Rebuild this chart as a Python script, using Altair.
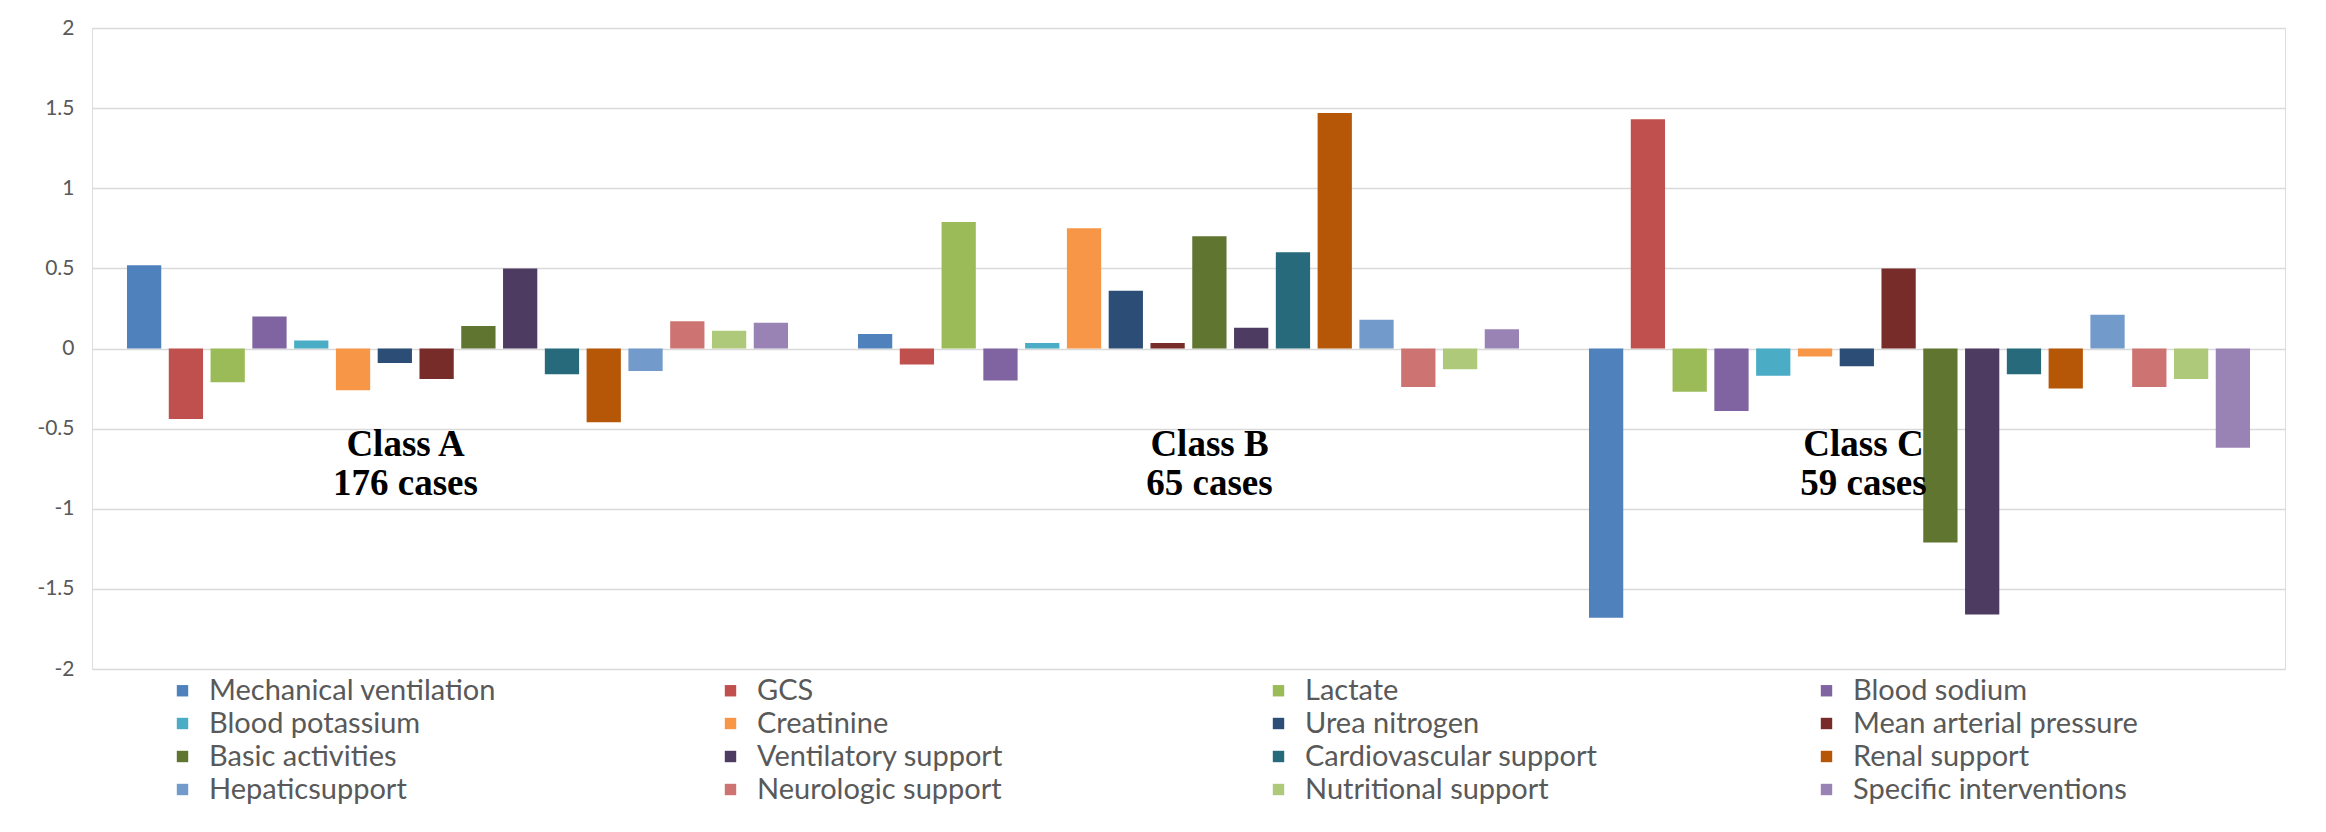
import altair as alt
import pandas as pd

classes = ["Class A", "Class B", "Class C"]
case_counts = ["176 cases", "65 cases", "59 cases"]
variables = [
    "Mechanical ventilation", "GCS", "Lactate", "Blood sodium",
    "Blood potassium", "Creatinine", "Urea nitrogen", "Mean arterial pressure",
    "Basic activities", "Ventilatory support", "Cardiovascular support", "Renal support",
    "Hepaticsupport", "Neurologic support", "Nutritional support", "Specific interventions",
]
class_a = [0.52, -0.44, -0.21, 0.20, 0.05, -0.26, -0.09, -0.19,
           0.14, 0.50, -0.16, -0.46, -0.14, 0.17, 0.11, 0.16]
class_b = [0.09, -0.10, 0.79, -0.20, 0.035, 0.75, 0.36, 0.035,
           0.70, 0.13, 0.60, 1.47, 0.18, -0.24, -0.13, 0.12]
class_c = [-1.68, 1.43, -0.27, -0.39, -0.17, -0.05, -0.11, 0.50,
           -1.21, -1.66, -0.16, -0.25, 0.21, -0.24, -0.19, -0.62]
colors = [
    "#4F81BD", "#C0504D", "#9BBB59", "#8064A2",
    "#4BACC6", "#F79646", "#2C4D75", "#772C2A",
    "#5F7530", "#4D3B62", "#276A7C", "#B65708",
    "#729ACA", "#CD7371", "#AFC97A", "#9983B5",
]
y_ticks = [-2, -1.5, -1, -0.5, 0, 0.5, 1, 1.5, 2]

rows = []
for cls, vals in zip(classes, [class_a, class_b, class_c]):
    for var, val in zip(variables, vals):
        rows.append({"cls": cls, "variable": var, "value": val})
df = pd.DataFrame(rows)

# legend fills column by column: transpose the order so it reads row by row
n_cols = 4
legend_order = [variables[r * n_cols + c] for c in range(n_cols) for r in range(len(variables) // n_cols)]
legend_colors = [colors[variables.index(v)] for v in legend_order]

lab_df = pd.DataFrame({"cls": classes, "label": [[c, n] for c, n in zip(classes, case_counts)]})

x_enc = alt.X("cls:N", sort=classes, scale=alt.Scale(paddingInner=0.09, paddingOuter=0.045), axis=None)

bars = alt.Chart(df).mark_bar().encode(
    x=x_enc,
    xOffset=alt.XOffset("variable:N", sort=variables,
                        scale=alt.Scale(paddingInner=0.18, paddingOuter=0.05)),
    y=alt.Y("value:Q", scale=alt.Scale(domain=[-2, 2], nice=False),
            axis=alt.Axis(values=y_ticks, title=None, labelExpr="'' + datum.value",
                          labelFont="Lato", labelFontSize=21, labelColor="#595959",
                          labelPadding=18, domain=False, ticks=False,
                          grid=True, gridColor="#D9D9D9", gridWidth=1.5)),
    color=alt.Color("variable:N",
                    scale=alt.Scale(domain=legend_order, range=legend_colors),
                    legend=alt.Legend(orient="none", legendX=76, legendY=648, columns=n_cols,
                                      title=None, symbolType="square", symbolSize=130,
                                      symbolStrokeWidth=0, labelFontSize=29, labelFont="Lato",
                                      labelColor="#595959", columnPadding=214, rowPadding=3,
                                      gridAlign="all", labelLimit=600, labelOffset=12,
                                      padding=0)),
)

label_shifts = [-52, 21, -56]
layers = [bars]
for cls, dx in zip(classes, label_shifts):
    layers.append(
        alt.Chart(lab_df).transform_filter(alt.datum.cls == cls).mark_text(
            dx=dx, font="Liberation Serif", fontWeight="bold", fontSize=37,
            color="#000000", lineHeight=39, baseline="middle", align="center",
        ).encode(x=x_enc, y=alt.datum(-0.60), text="label:N")
    )

chart = alt.layer(*layers).properties(
    width=2193, height=641,
    autosize=alt.AutoSizeParams(type="none"),
    padding={"left": 92, "top": 28, "right": 41, "bottom": 163},
).configure_view(stroke=None).configure(background="#FFFFFF")

chart.save("out.html", embed_options={"renderer": "svg", "actions": False})
